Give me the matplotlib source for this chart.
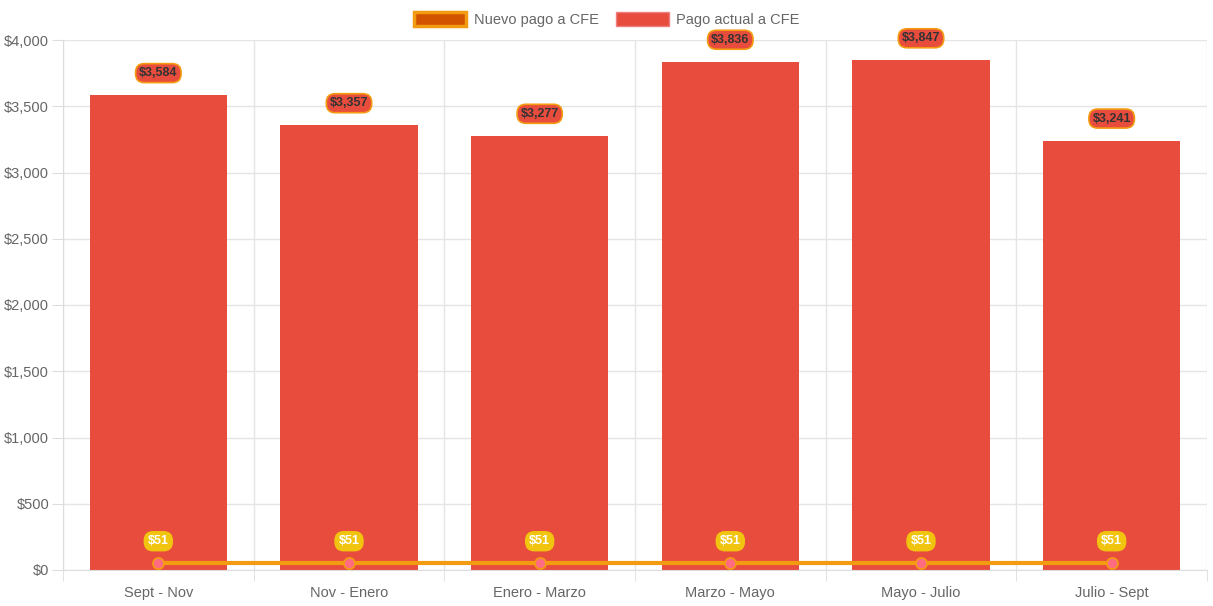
import matplotlib
matplotlib.use("Agg")
import matplotlib.pyplot as plt
from matplotlib.ticker import FuncFormatter, FixedLocator
from matplotlib.patches import Patch

plt.rcParams['font.family'] = ['Liberation Sans', 'DejaVu Sans']

periodos = ["Sept - Nov", "Nov - Enero", "Enero - Marzo", "Marzo - Mayo", "Mayo - Julio", "Julio - Sept"]
pago_actual = [3584, 3357, 3277, 3836, 3847, 3241]
pago_nuevo = [51, 51, 51, 51, 51, 51]

ROJO = "#e74c3c"
NARANJA = "#f39c12"
NARANJA_OSC = "#d35400"
AMARILLO = "#f1c40f"
GRIS = "#666666"

fig = plt.figure(figsize=(12.13, 6.06), dpi=100)
ax = fig.add_axes([63 / 1213, 36 / 606, 1144 / 1213, 530 / 606])

x = list(range(len(periodos)))
ax.bar(x, pago_actual, width=0.72, color=ROJO, zorder=2)
ax.plot(x, pago_nuevo, color=NARANJA, lw=3, zorder=3, solid_capstyle='butt')
ax.scatter(x, pago_nuevo, s=64, facecolor="#ff6b81", edgecolor=NARANJA, lw=1.2, zorder=4)

# etiquetas
for xi, v in zip(x, pago_actual):
    ax.annotate(f"${v:,}", (xi, v), xytext=(0, 22), textcoords="offset pixels",
                ha="center", va="center", fontsize=9, fontweight="bold", color="#333333",
                bbox=dict(boxstyle="round,pad=0.28,rounding_size=0.7", fc=ROJO, ec=NARANJA, lw=1.2),
                zorder=5)
for xi, v in zip(x, pago_nuevo):
    ax.annotate(f"${v:,}", (xi, v), xytext=(0, 22), textcoords="offset pixels",
                ha="center", va="center", fontsize=9, fontweight="bold", color="white",
                bbox=dict(boxstyle="round,pad=0.28,rounding_size=0.7", fc=AMARILLO, ec=AMARILLO, lw=1),
                zorder=5)

ax.set_xlim(-0.5, len(periodos) - 0.5)
ax.set_ylim(0, 4000)
ax.set_yticks(range(0, 4001, 500))
ax.yaxis.set_major_formatter(FuncFormatter(lambda v, p: f"${int(v):,}"))
ax.set_xticks(x)
ax.set_xticklabels(periodos)
ax.xaxis.set_minor_locator(FixedLocator([i - 0.5 for i in range(len(periodos) + 1)]))
ax.tick_params(axis='x', which='major', length=0, pad=11.5, colors=GRIS, labelsize=10.5)
ax.tick_params(axis='x', which='minor', length=8, color="#dddddd")
ax.tick_params(axis='y', length=8, color="#dddddd", colors=GRIS, labelsize=10.5, pad=2)
ax.grid(axis='y', color="#e5e5e5", lw=1, zorder=0)
ax.grid(axis='x', which='minor', color="#e5e5e5", lw=1, zorder=0)
for s in ["top", "right"]:
    ax.spines[s].set_visible(False)
ax.spines["left"].set_color("#dddddd")
ax.spines["bottom"].set_color("#dddddd")
ax.set_axisbelow(True)

handles = [Patch(facecolor=NARANJA_OSC, edgecolor=NARANJA, lw=2.5, label="Nuevo pago a CFE"),
           Patch(facecolor=ROJO, edgecolor="#f08080", lw=1, label="Pago actual a CFE")]
fig.legend(handles=handles, loc="upper center", bbox_to_anchor=(0.5, 0.996), ncol=2, frameon=False,
           fontsize=10.5, labelcolor=GRIS, handlelength=3.6, handleheight=1.1, columnspacing=1.2,
           handletextpad=0.5, borderaxespad=0.25)

fig.savefig("out.png", dpi=100)
